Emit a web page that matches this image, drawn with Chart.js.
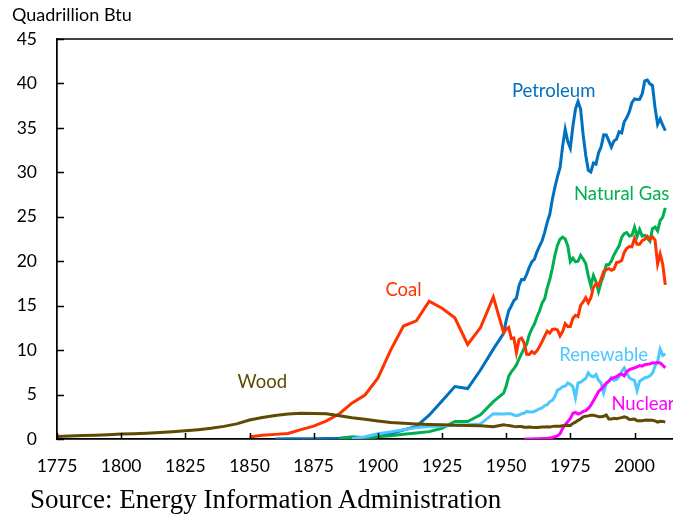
<!DOCTYPE html>
<html>
<head>
<meta charset="utf-8">
<script src="https://cdn.jsdelivr.net/npm/chart.js@4"></script>
<style>
  body { margin: 0; background: #fff; }
  #wrap { position: relative; width: 673px; height: 518px; }
  #unit { position: absolute; left: 12px; top: 3px; font: 18px Lato; color: #000; }
  #source { position: absolute; left: 30px; top: 484px; font: 27px "Liberation Serif"; color: #000; }
</style>
</head>
<body>
<div id="wrap">
  <canvas id="chart" width="673" height="518"></canvas>
  <div id="unit">Quadrillion Btu</div>
  <div id="source">Source: Energy Information Administration</div>
</div>
<script>
// years: every 5 years up to 1945, then annual from 1949
const earlyYears = [1775, 1780, 1785, 1790, 1795, 1800, 1805, 1810, 1815, 1820, 1825, 1830,
  1835, 1840, 1845, 1850, 1855, 1860, 1865, 1870, 1875, 1880, 1885, 1890, 1895, 1900,
  1905, 1910, 1915, 1920, 1925, 1930, 1935, 1940, 1945];
const modernYears = [1949, 1950, 1951, 1952, 1953, 1954, 1955, 1956, 1957, 1958,
  1959, 1960, 1961, 1962, 1963, 1964, 1965, 1966, 1967, 1968,
  1969, 1970, 1971, 1972, 1973, 1974, 1975, 1976, 1977, 1978,
  1979, 1980, 1981, 1982, 1983, 1984, 1985, 1986, 1987, 1988,
  1989, 1990, 1991, 1992, 1993, 1994, 1995, 1996, 1997, 1998,
  1999, 2000, 2001, 2002, 2003, 2004, 2005, 2006, 2007, 2008,
  2009, 2010, 2011, 2012];

const xTicks = [1775, 1800, 1825, 1850, 1875, 1900, 1925, 1950, 1975, 2000];
const yTicks = [0, 5, 10, 15, 20, 25, 30, 35, 40, 45];

const woodEarly = [0.28, 0.33, 0.38, 0.43, 0.49, 0.55, 0.6, 0.66, 0.73, 0.82, 0.92, 1.05,
  1.2, 1.42, 1.7, 2.14, 2.42, 2.64, 2.8, 2.89, 2.88, 2.85, 2.62, 2.4, 2.22, 2.02,
  1.85, 1.77, 1.7, 1.64, 1.6, 1.55, 1.53, 1.5, 1.38];
const woodModern = [1.6, 1.56, 1.53, 1.47, 1.42, 1.39, 1.42, 1.41, 1.33, 1.32,
  1.35, 1.32, 1.3, 1.3, 1.32, 1.34, 1.34, 1.37, 1.34, 1.42,
  1.44, 1.43, 1.43, 1.5, 1.53, 1.54, 1.52, 1.75, 1.9, 2.1,
  2.25, 2.5, 2.57, 2.6, 2.66, 2.66, 2.6, 2.5, 2.5, 2.55,
  2.7, 2.25, 2.24, 2.33, 2.28, 2.35, 2.4, 2.5, 2.4, 2.2,
  2.22, 2.25, 2.05, 2.05, 2.05, 2.12, 2.14, 2.1, 2.1, 2.04,
  1.9, 2.0, 1.98, 1.9];

const coalEarly = [null, null, null, null, null, null, null, null, null, null, null, null,
  null, null, null, 0.22, 0.42, 0.52, 0.63, 1.05, 1.44, 2.05, 2.84, 4.06, 4.95, 6.84,
  10.0, 12.71, 13.29, 15.5, 14.71, 13.64, 10.63, 12.54, 15.97];
const coalModern = [11.98, 12.35, 12.55, 11.31, 11.37, 9.72, 11.17, 11.35, 10.82, 9.53,
  9.52, 9.84, 9.62, 9.91, 10.41, 10.96, 11.58, 12.14, 11.91, 12.33,
  12.38, 12.27, 11.6, 12.08, 12.97, 12.66, 12.66, 13.58, 13.92, 13.77,
  15.04, 15.42, 15.91, 15.32, 15.89, 17.07, 17.48, 17.26, 18.01, 18.85,
  19.07, 19.17, 18.99, 19.12, 19.84, 19.91, 20.09, 21.0, 21.45, 21.66,
  21.62, 22.58, 21.91, 21.9, 22.32, 22.47, 22.8, 22.45, 22.75, 22.39,
  19.69, 20.83, 19.66, 17.34];

const petroleumEarly = [null, null, null, null, null, null, null, null, null, null, null, null,
  null, null, null, null, null, 0.01, 0.02, 0.02, 0.03, 0.05, 0.06, 0.16, 0.17, 0.23,
  0.61, 1.01, 1.42, 2.68, 4.28, 5.9, 5.67, 7.76, 10.11];
const petroleumModern = [11.88, 13.32, 14.43, 14.96, 15.56, 15.84, 17.26, 17.94, 17.93, 18.53,
  19.32, 19.92, 20.22, 21.05, 21.7, 22.3, 23.25, 24.4, 25.28, 26.98,
  28.34, 29.52, 30.56, 32.95, 34.84, 33.46, 32.73, 35.18, 37.12, 37.97,
  37.12, 34.2, 31.93, 30.23, 30.05, 31.05, 30.93, 32.2, 32.86, 34.22,
  34.21, 33.55, 32.85, 33.53, 33.74, 34.56, 34.44, 35.68, 36.16, 36.82,
  37.84, 38.26, 38.19, 38.22, 38.81, 40.29, 40.39, 39.96, 39.77, 37.28,
  35.4, 36.01, 35.3, 34.7];

const gasEarly = [null, null, null, null, null, null, null, null, null, null, null, null,
  null, null, null, null, null, null, null, null, null, null, 0.08, 0.26, 0.15, 0.25,
  0.37, 0.54, 0.67, 0.83, 1.21, 1.97, 1.97, 2.73, 4.2];
const gasModern = [5.15, 5.97, 7.05, 7.55, 7.91, 8.33, 9.0, 9.61, 10.19, 10.66,
  11.72, 12.39, 12.93, 13.73, 14.4, 15.29, 15.77, 17.0, 17.94, 19.21,
  20.68, 21.8, 22.47, 22.7, 22.51, 21.73, 19.95, 20.35, 19.93, 20.0,
  20.67, 20.24, 19.75, 18.36, 17.22, 18.39, 17.7, 16.59, 17.64, 18.45,
  19.6, 19.6, 20.03, 20.71, 21.23, 21.73, 22.67, 23.09, 23.22, 22.83,
  22.91, 23.82, 22.77, 23.56, 22.83, 22.92, 22.57, 22.24, 23.66, 23.84,
  23.42, 24.58, 24.96, 26.0];

const renewableEarly = [null, null, null, null, null, null, null, null, null, null, null, null,
  null, null, null, null, null, null, null, null, null, null, null, 0.02, 0.25, 0.58,
  0.8, 1.05, 1.28, 1.4, 1.47, 1.55, 1.6, 1.7, 2.85];
const renewableModern = [2.8, 2.85, 2.83, 2.83, 2.7, 2.62, 2.7, 2.85, 2.9, 3.1,
  3.05, 3.05, 3.1, 3.25, 3.4, 3.5, 3.75, 3.85, 4.2, 4.35,
  4.8, 5.5, 5.65, 5.9, 5.95, 6.3, 6.15, 5.9, 4.65, 6.3,
  6.4, 6.6, 6.8, 7.45, 7.1, 7.0, 7.25, 6.6, 6.3, 5.2,
  6.2, 6.5, 6.9, 6.6, 6.7, 7.0, 7.6, 8.0, 7.4, 6.9,
  6.7, 6.6, 5.45, 6.5, 6.7, 6.9, 6.95, 7.1, 7.4, 8.2,
  8.7, 10.1, 9.4, 9.6];

const nuclearEarly = earlyYears.map(() => null);
const nuclearModern = [null, null, null, null, null, null, null, null, 0, 0,
  0.01, 0.01, 0.02, 0.03, 0.04, 0.05, 0.06, 0.08, 0.12, 0.18,
  0.25, 0.35, 0.6, 1.2, 1.6, 1.95, 2.3, 2.9, 3.0, 2.8,
  2.9, 3.1, 3.2, 3.45, 3.8, 4.3, 4.8, 5.35, 5.6, 5.95,
  6.3, 6.5, 6.8, 6.9, 7.0, 7.25, 7.3, 7.1, 7.6, 7.8,
  7.9, 8.0, 8.1, 8.27, 8.2, 8.35, 8.4, 8.45, 8.57, 8.55,
  8.6, 8.55, 8.3, 8.0];

const years = earlyYears.concat(modernYears);

function points(early, modern) {
  const vals = early.concat(modern);
  return years.map((x, i) => ({ x: x, y: vals[i] }));
}

const FONT = 'Lato';

function series(label, early, modern, color) {
  return {
    label: label,
    data: points(early, modern),
    borderColor: color,
    backgroundColor: color,
    borderWidth: 3,
    pointRadius: 0,
    tension: 0,
    spanGaps: false
  };
}

// coloured names beside each line, anchored in data units
const seriesLabels = [
  { text: 'Petroleum', year: 1968.5, value: 39.2, color: '#0070C0' },
  { text: 'Natural Gas', year: 1995, value: 27.6, color: '#00B050' },
  { text: 'Coal', year: 1910, value: 16.8, color: '#FF3300' },
  { text: 'Renewable', year: 1988, value: 9.5, color: '#4DC8FF' },
  { text: 'Nuclear', year: 2003.3, value: 3.9, color: '#FF00FF' },
  { text: 'Wood', year: 1855, value: 6.45, color: '#5E4A00' }
];

const decorations = {
  id: 'decorations',
  afterDraw(chart) {
    const ctx = chart.ctx;
    const a = chart.chartArea;
    const xs = chart.scales.x, ys = chart.scales.y;
    ctx.save();
    ctx.strokeStyle = '#000';
    ctx.lineWidth = 1.5;
    // top border
    ctx.beginPath();
    ctx.moveTo(a.left, a.top);
    ctx.lineTo(a.right, a.top);
    ctx.stroke();
    // inward tick marks
    ctx.beginPath();
    xTicks.forEach(v => {
      const px = Math.round(xs.getPixelForValue(v)) + 0.5;
      ctx.moveTo(px, a.bottom);
      ctx.lineTo(px, a.bottom - 6);
    });
    yTicks.forEach(v => {
      const py = Math.round(ys.getPixelForValue(v)) + 0.5;
      ctx.moveTo(a.left, py);
      ctx.lineTo(a.left + 7, py);
    });
    ctx.stroke();
    // series names
    ctx.font = '18.5px ' + FONT;
    ctx.textAlign = 'center';
    ctx.textBaseline = 'middle';
    seriesLabels.forEach(l => {
      ctx.fillStyle = l.color;
      ctx.fillText(l.text, xs.getPixelForValue(l.year), ys.getPixelForValue(l.value));
    });
    ctx.restore();
  }
};

new Chart(document.getElementById('chart'), {
  type: 'line',
  data: {
    datasets: [
      series('Wood', woodEarly, woodModern, '#5E4A00'),
      series('Nuclear', nuclearEarly, nuclearModern, '#FF00FF'),
      series('Renewable', renewableEarly, renewableModern, '#4DC8FF'),
      series('Coal', coalEarly, coalModern, '#FF3300'),
      series('Natural Gas', gasEarly, gasModern, '#00B050'),
      series('Petroleum', petroleumEarly, petroleumModern, '#0070C0')
    ]
  },
  options: {
    responsive: false,
    animation: false,
    layout: { padding: { top: 39, left: 0, right: 0, bottom: 0 } },
    plugins: { legend: { display: false }, tooltip: { enabled: false } },
    scales: {
      x: {
        type: 'linear',
        min: 1775,
        max: 2015,
        afterBuildTicks: s => { s.ticks = xTicks.map(v => ({ value: v })); },
        afterFit: s => { s.height = 79; },
        grid: { display: false, drawTicks: false },
        border: { display: true, color: '#000', width: 1.75 },
        ticks: {
          autoSkip: false, maxRotation: 0, padding: 17, color: '#000',
          font: { family: FONT, size: 17.5 },
          callback: v => String(v)
        }
      },
      y: {
        min: 0,
        max: 45,
        afterBuildTicks: s => { s.ticks = yTicks.map(v => ({ value: v })); },
        afterFit: s => { s.width = 57; },
        grid: { display: false, drawTicks: false },
        border: { display: true, color: '#000', width: 1.75 },
        ticks: {
          padding: 20, color: '#000',
          font: { family: FONT, size: 17.5 }
        }
      }
    }
  },
  plugins: [decorations]
});
</script>
</body>
</html>
